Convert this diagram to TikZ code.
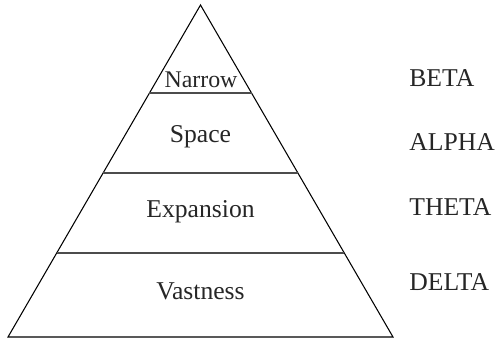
\documentclass[tikz,border=0pt]{standalone}
\usepackage{fontspec}
\setmainfont{Liberation Serif}
\usetikzlibrary{calc}
\begin{document}
\begin{tikzpicture}[x=0.02cm, y=-0.02cm,
  level/.style={anchor=base, inner sep=0pt, text=black!85, font=\fontsize{14.6}{16}\selectfont},
  tag/.style={anchor=base west, inner sep=0pt, text=black!85, font=\fontsize{14.6}{16}\selectfont},
  cut/.style={line width=0.8pt, black!70}]
\useasboundingbox (0,0) rectangle (500,339);
\coordinate (top) at (200.5,5);
\coordinate (bl) at (8,337);
\coordinate (br) at (393,337);
\draw[line width=0.6pt] (bl) -- (top) -- (br) -- cycle;
% layer borders
\coordinate (al) at ($(top)!0.265!(bl)$);
\coordinate (ar) at ($(top)!0.265!(br)$);
\coordinate (bl2) at ($(top)!0.506!(bl)$);
\coordinate (br2) at ($(top)!0.506!(br)$);
\coordinate (cl) at ($(top)!0.747!(bl)$);
\coordinate (cr) at ($(top)!0.747!(br)$);
\draw[cut] (al) -- (ar);
\draw[cut] (bl2) -- (br2);
\draw[cut] (cl) -- (cr);
\node[level, font=\fontsize{13.6}{16}\selectfont] (narrow) at (201,87) {Narrow};
\node[level] (space) at (200.5,142) {Space};
\node[level] (expansion) at (200.5,217) {Expansion};
\node[level] (vastness) at (200.5,299) {Vastness};
\node[tag] (beta) at (409,86) {BETA};
\node[tag] (alpha) at (409,150) {ALPHA};
\node[tag] (theta) at (409,215) {THETA};
\node[tag] (delta) at (409,290) {DELTA};
\end{tikzpicture}
\end{document}
